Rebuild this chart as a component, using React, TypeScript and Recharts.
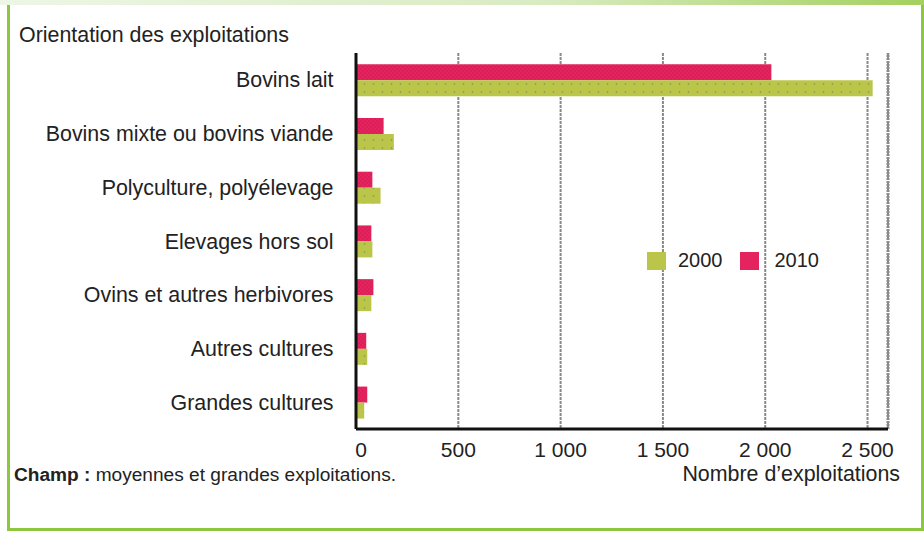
import React from 'react';
import { BarChart, Bar, XAxis, YAxis, CartesianGrid, ReferenceLine } from 'recharts';

const categories = [
  'Bovins lait',
  'Bovins mixte ou bovins viande',
  'Polyculture, polyélevage',
  'Elevages hors sol',
  'Ovins et autres herbivores',
  'Autres cultures',
  'Grandes cultures',
];
const values2000 = [2525, 185, 120, 80, 75, 55, 40];
const values2010 = [2030, 135, 80, 75, 85, 50, 55];
const xTicks = [0, 500, 1000, 1500, 2000, 2500];
const xMax = 2600;
const legendItems = [
  { label: '2000', key: 'v2000' },
  { label: '2010', key: 'v2010' },
];

const GREEN = '#bac54a';
const RED = '#e4245e';
const FONT = '"Liberation Sans", Arial, sans-serif';
const colorOf: Record<string, string> = { v2000: GREEN, v2010: RED };

const chartData = categories.map((name, i) => ({
  name,
  v2000: values2000[i],
  v2010: values2010[i],
}));

const formatThousands = (v: number) => (v >= 1000 ? `${Math.floor(v / 1000)} ${String(v % 1000).padStart(3, '0')}` : String(v));

const XTick = (props: any) => {
  const { x, y, payload } = props;
  const shift = payload.value === 0 ? 5 : 0;
  return (
    <text x={x + shift} y={y} dy="0.71em" textAnchor="middle" fontSize={21} fill="#222" fontFamily={FONT}>
      {formatThousands(payload.value)}
    </text>
  );
};

export default function App() {
  return (
    <div style={{ position: 'absolute', left: 0, top: 0, width: 924, height: 533, background: '#fff', overflow: 'hidden' }}>
      {/* frame */}
      <div style={{ position: 'absolute', left: 0, top: 0, width: 924, height: 5, background: 'linear-gradient(to right, #eef6e6, #d8ebc0 60%, #a3d05e)' }} />
      <div style={{ position: 'absolute', left: 7, top: 5, width: 2.5, height: 526, background: '#8dc63f' }} />
      <div style={{ position: 'absolute', left: 921, top: 5, width: 2.5, height: 526, background: '#8dc63f' }} />
      <div style={{ position: 'absolute', left: 7, top: 528, width: 916, height: 2.5, background: '#8dc63f' }} />

      <div style={{ position: 'absolute', left: 19, top: 23, fontFamily: FONT, fontSize: 21.4, color: '#222', whiteSpace: 'nowrap' }}>
        Orientation des exploitations
      </div>

      <BarChart
        width={924}
        height={533}
        data={chartData}
        layout="vertical"
        margin={{ top: 53, right: 36, bottom: 74, left: 16 }}
        barCategoryGap="21%"
        barGap={0}
        style={{ position: 'absolute', left: 0, top: 0 }}
      >
        <defs>
          <pattern id="pGreen" patternUnits="userSpaceOnUse" width={9} height={8}>
            <rect width={9} height={8} fill={GREEN} />
            <circle cx={4.5} cy={4} r={0.9} fill="#86a84c" />
          </pattern>
          <pattern id="pRed" patternUnits="userSpaceOnUse" width={4} height={4}>
            <rect width={4} height={4} fill={RED} />
            <rect width={2} height={2} fill="#dc1f58" />
            <rect x={2} y={2} width={2} height={2} fill="#dc1f58" />
          </pattern>
        </defs>
        <CartesianGrid horizontal={false} stroke="#8a8a8a" strokeWidth={2} strokeDasharray="3 1" />
        <XAxis
          type="number"
          domain={[0, xMax]}
          ticks={xTicks}
          allowDataOverflow
          tickLine={false}
          tickSize={0}
          tickMargin={13}
          height={30}
          axisLine={{ stroke: '#111', strokeWidth: 3 }}
          tick={<XTick />}
        />
        <XAxis
          xAxisId="top"
          orientation="top"
          type="number"
          domain={[0, xMax]}
          height={0}
          tick={false}
          tickLine={false}
          axisLine={{ stroke: '#8a8a8a', strokeWidth: 3, strokeDasharray: '2 1' }}
        />
        <YAxis
          type="category"
          dataKey="name"
          width={340}
          tickLine={false}
          tickSize={4}
          tickMargin={18.5}
          axisLine={{ stroke: '#111', strokeWidth: 3 }}
          tick={{ fontSize: 21.4, fill: '#222', fontFamily: FONT }}
          interval={0}
        />
        <ReferenceLine x={xMax} stroke="#8a8a8a" strokeWidth={3} strokeDasharray="2 1" ifOverflow="visible" />
        <Bar dataKey="v2010" name="2010" fill="url(#pRed)" isAnimationActive={false} />
        <Bar dataKey="v2000" name="2000" fill="url(#pGreen)" isAnimationActive={false} />
      </BarChart>

      {/* legend */}
      <div style={{ position: 'absolute', left: 647, top: 249, display: 'flex', alignItems: 'center', fontFamily: FONT, fontSize: 20, color: '#222' }}>
        {legendItems.map((it, i) => (
          <React.Fragment key={it.key}>
            <span style={{ width: 19, height: 18, background: colorOf[it.key], display: 'inline-block', marginLeft: i === 0 ? 0 : 17 }} />
            <span style={{ marginLeft: i === 0 ? 12 : 16 }}>{it.label}</span>
          </React.Fragment>
        ))}
      </div>

      <div style={{ position: 'absolute', left: 14, top: 464, fontFamily: FONT, fontSize: 19.1, color: '#222', whiteSpace: 'nowrap' }}>
        <b>Champ :</b> moyennes et grandes exploitations.
      </div>
      <div style={{ position: 'absolute', right: 24, top: 462, fontFamily: FONT, fontSize: 21.4, color: '#222', whiteSpace: 'nowrap' }}>
        Nombre d’exploitations
      </div>
    </div>
  );
}
